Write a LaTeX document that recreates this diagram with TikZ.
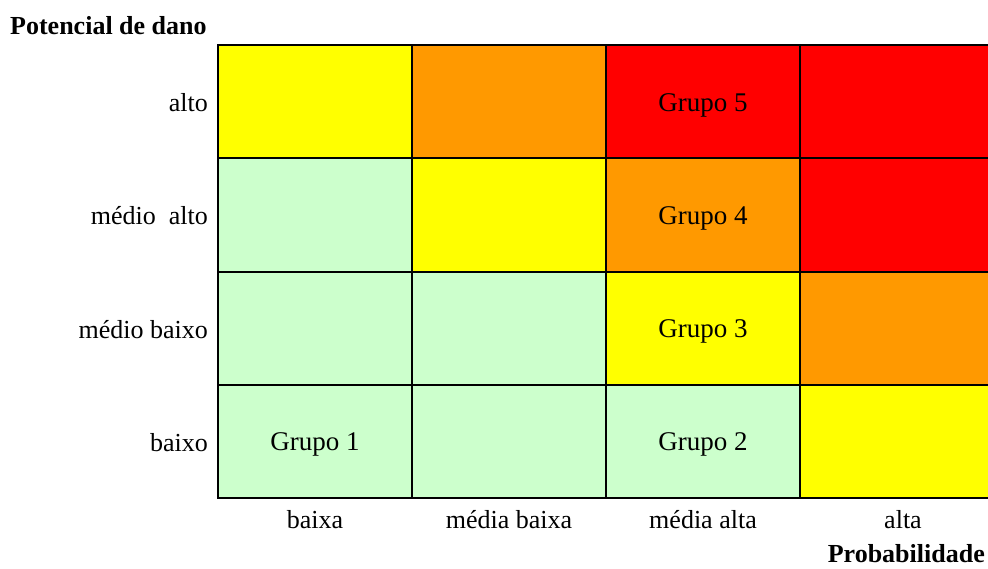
\documentclass[tikz,border=0pt]{standalone}
\usepackage{fontspec}
\setmainfont{Liberation Serif}
\definecolor{verde}{HTML}{CCFFCC}
\definecolor{amarelo}{HTML}{FFFF00}
\definecolor{laranja}{HTML}{FF9900}
\definecolor{vermelho}{HTML}{FF0000}
\tikzset{
    cell/.style={draw=black, line width=2pt, minimum width=194pt, minimum height=113.3pt, inner sep=0pt,
        text height=22pt, text depth=3.4pt, font=\fontsize{27}{31}\selectfont},
    rotulo/.style={font=\fontsize{26}{30}\selectfont, inner sep=0pt},
    titulo/.style={font=\bfseries\fontsize{26}{30}\selectfont, inner sep=0pt},
}
\begin{document}
\begin{tikzpicture}[x=1pt, y=-1pt]
    \useasboundingbox (0,0) rectangle (988,568);
    \clip (0,0) rectangle (988,568);

    % celulas da matriz
    \foreach \cor/\txt [count=\i from 0] in {
            amarelo/, laranja/, vermelho/Grupo 5, vermelho/,
            verde/, amarelo/, laranja/Grupo 4, vermelho/,
            verde/, verde/, amarelo/Grupo 3, laranja/,
            verde/Grupo 1, verde/, verde/Grupo 2, amarelo/} {
        \pgfmathtruncatemacro{\col}{mod(\i,4)}
        \pgfmathtruncatemacro{\lin}{div(\i,4)}
        \node[cell, fill=\cor] (c\lin\col) at ({315+194*\col},{101.7+113.3*\lin}) {\txt};
    }

    % eixo vertical
    \node[titulo, anchor=base west] (pot) at (10,34) {Potencial de dano};
    \node[rotulo, anchor=east] (alto) at (208,103) {alto};
    \node[rotulo, anchor=east] (malto) at (208,216) {médio\ \ alto};
    \node[rotulo, anchor=east] (mbaixo) at (208,330) {médio baixo};
    \node[rotulo, anchor=east] (baixo) at (208,443) {baixo};

    % eixo horizontal
    \node[rotulo, anchor=base] (pbaixa) at (315,528) {baixa};
    \node[rotulo, anchor=base] (pmbaixa) at (509,528) {média baixa};
    \node[rotulo, anchor=base] (pmalta) at (703,528) {média alta};
    \node[rotulo, anchor=base] (palta) at (903,528) {alta};
    \node[titulo, anchor=base east] (prob) at (985,562) {Probabilidade};
\end{tikzpicture}
\end{document}
